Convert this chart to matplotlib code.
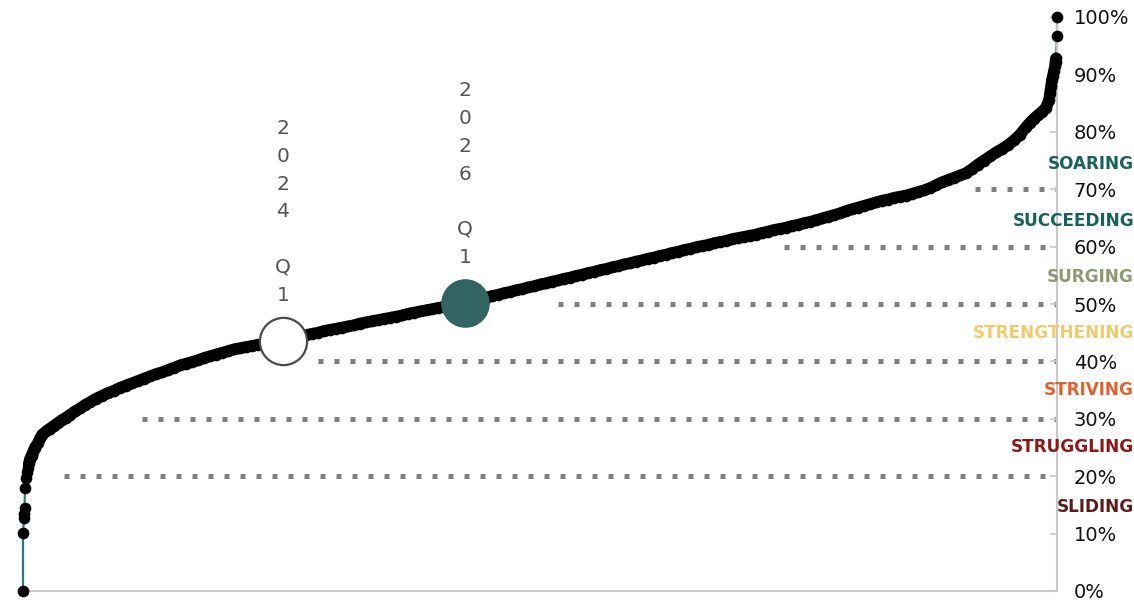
import matplotlib
matplotlib.use("Agg")
import matplotlib.pyplot as plt

# ---------------- data ----------------
# position in the sorted ranking (0 .. 1034) and score in percent
rank = [0, 0, 1, 1, 1.5, 2, 3, 4, 5, 6, 7, 8.5, 10, 12, 15, 17, 19, 23, 27, 31,
        35, 39, 43, 47, 52, 57, 62, 67, 73, 79, 85, 91, 97, 103, 109, 115, 121,
        127, 133, 139, 145, 151, 157, 163, 169, 175, 181, 187, 193, 199, 205, 211,
        217, 223, 229, 235, 241, 247, 253, 259, 265, 271, 277, 283, 289, 295, 301,
        307, 313, 319, 325, 331, 337, 343, 349, 355, 361, 367, 373, 379, 385, 391,
        397, 403, 409, 415, 421, 427, 433, 439, 445, 451, 457, 463, 469, 475, 481,
        487, 493, 499, 505, 511, 517, 523, 529, 535, 541, 547, 553, 559, 565, 571,
        577, 583, 589, 595, 601, 607, 613, 619, 625, 631, 637, 643, 649, 655, 661,
        667, 673, 679, 685, 691, 697, 703, 709, 715, 721, 727, 733, 739, 745, 751,
        757, 763, 769, 775, 781, 787, 793, 799, 805, 811, 817, 823, 829, 835, 841,
        847, 853, 859, 865, 871, 877, 883, 889, 895, 901, 907, 913, 919, 925, 931,
        937, 943, 949, 955, 961, 967, 973, 979, 985, 991, 997, 1003, 1007, 1011,
        1015, 1019, 1023, 1026, 1027, 1028, 1029, 1030, 1031, 1032, 1032.5, 1033,
        1034, 1034]
score = [0.0, 10.1, 12.7, 13.5, 14.5, 17.9, 19.7, 20.8, 21.5, 22.3, 23.0, 23.6,
         24.2, 25.0, 25.8, 26.6, 27.2, 27.8, 28.3, 28.8, 29.3, 29.8, 30.2, 30.7,
         31.3, 31.8, 32.4, 32.9, 33.5, 34.0, 34.5, 34.9, 35.4, 35.8, 36.2, 36.6,
         37.0, 37.4, 37.8, 38.1, 38.5, 38.9, 39.3, 39.6, 39.9, 40.2, 40.6, 40.9,
         41.2, 41.5, 41.8, 42.1, 42.3, 42.5, 42.7, 42.9, 43.1, 43.3, 43.5, 43.6,
         43.8, 44.1, 44.3, 44.6, 44.8, 45.0, 45.3, 45.5, 45.7, 45.9, 46.1, 46.3,
         46.6, 46.8, 47.0, 47.2, 47.4, 47.6, 47.8, 48.0, 48.3, 48.5, 48.7, 48.9,
         49.1, 49.3, 49.5, 49.7, 49.9, 50.1, 50.3, 50.6, 50.9, 51.1, 51.4, 51.6,
         51.9, 52.1, 52.4, 52.6, 52.9, 53.1, 53.4, 53.6, 53.9, 54.1, 54.4, 54.6,
         54.9, 55.1, 55.4, 55.6, 55.9, 56.1, 56.4, 56.6, 56.9, 57.1, 57.4, 57.6,
         57.9, 58.1, 58.4, 58.6, 58.9, 59.1, 59.4, 59.6, 59.9, 60.1, 60.3, 60.6,
         60.8, 61.0, 61.3, 61.5, 61.7, 61.9, 62.1, 62.4, 62.6, 62.9, 63.1, 63.3,
         63.6, 63.8, 64.1, 64.3, 64.6, 64.9, 65.2, 65.5, 65.8, 66.2, 66.5, 66.8,
         67.1, 67.4, 67.7, 68.0, 68.2, 68.5, 68.7, 68.9, 69.2, 69.5, 69.8, 70.2,
         70.7, 71.2, 71.6, 72.0, 72.4, 72.8, 73.5, 74.3, 75.0, 75.7, 76.4, 77.0,
         77.7, 78.5, 79.5, 80.8, 81.6, 82.3, 82.9, 83.5, 84.2, 85.5, 86.7, 88.0,
         89.0, 89.8, 90.6, 91.4, 92.2, 92.8, 96.7, 100.0]

# highlighted periods
period_labels = ["2024 Q1", "2026 Q1"]
period_rank = [260, 442]
period_score = [43.5, 50.1]

# bands
band_names = ["SLIDING", "STRUGGLING", "STRIVING", "STRENGTHENING",
              "SURGING", "SUCCEEDING", "SOARING"]
band_label_y = [14.6, 25.1, 35.0, 44.9, 54.7, 64.5, 74.4]
band_colors = ["#5a1d1d", "#8e1717", "#e0602d", "#f2ca6c",
               "#8b9a72", "#17625c", "#17625c"]
band_levels = [20, 30, 40, 50, 60, 70]
band_line_start = [41, 119, 295, 535, 761, 952]

y_ticks = [0, 10, 20, 30, 40, 50, 60, 70, 80, 90, 100]
y_tick_labels = [f"{t}%" for t in y_ticks]

# ---------------- figure ----------------
W, H = 1134, 605
fig = plt.figure(figsize=(W / 100, H / 100), dpi=100)
ax = fig.add_axes([23 / W, 14 / H, 1034 / W, 574 / H])
ax.set_xlim(0, 1034)
ax.set_ylim(0, 100)

for s in ["left", "top"]:
    ax.spines[s].set_visible(False)
for s in ["right", "bottom"]:
    ax.spines[s].set_color("#c8c8c8")
    ax.spines[s].set_linewidth(1.5)

ax.set_xticks([])
ax.yaxis.tick_right()
ax.set_yticks(y_ticks)
ax.set_yticklabels(y_tick_labels)
ax.tick_params(axis="y", direction="in", length=5, width=1.2, color="#c8c8c8",
               pad=12, labelsize=14, labelcolor="#111111")

# dotted band lines
for lvl, start in zip(band_levels, band_line_start):
    ax.plot([start, 1034], [lvl, lvl], color="#808080", lw=3.6,
            linestyle=(0, (1, 2.2)), dash_capstyle="butt", zorder=1)

# curve: thin teal connector, then the dense run of respondent dots
DOT = 8.4
ax.plot(rank, score, color="#2b7b85", lw=1.6, zorder=2, clip_on=False)
ax.plot(rank[6:-2], score[6:-2], color="black", lw=DOT,
        solid_capstyle="round", solid_joinstyle="round", zorder=3)
ax.plot(rank, score, linestyle="none", marker="o", markersize=DOT,
        markerfacecolor="black", markeredgewidth=0, zorder=3, clip_on=False)

# highlighted markers
ax.plot(period_rank[0], period_score[0], marker="o", markersize=34,
        markerfacecolor="white", markeredgecolor="#4a4a4a", markeredgewidth=1.6,
        zorder=5, clip_on=False)
ax.plot(period_rank[1], period_score[1], marker="o", markersize=35,
        markerfacecolor="#326562", markeredgewidth=0, zorder=5, clip_on=False)

for lab, r, s in zip(period_labels, period_rank, period_score):
    vertical = "\n".join("" if ch == " " else ch for ch in lab)
    ax.annotate(vertical, xy=(r, s), xytext=(0, 26.5), textcoords="offset points",
                ha="center", va="bottom", fontsize=14.5, color="#555555",
                linespacing=1.58, zorder=6)

# band labels
for name, y, c in zip(band_names, band_label_y, band_colors):
    ax.text((W - 23) / 1034, y, name, transform=ax.get_yaxis_transform(),
            ha="right", va="center", fontsize=12.2, fontweight="bold",
            color=c, zorder=6, clip_on=False)

fig.savefig("out.png", dpi=100)
